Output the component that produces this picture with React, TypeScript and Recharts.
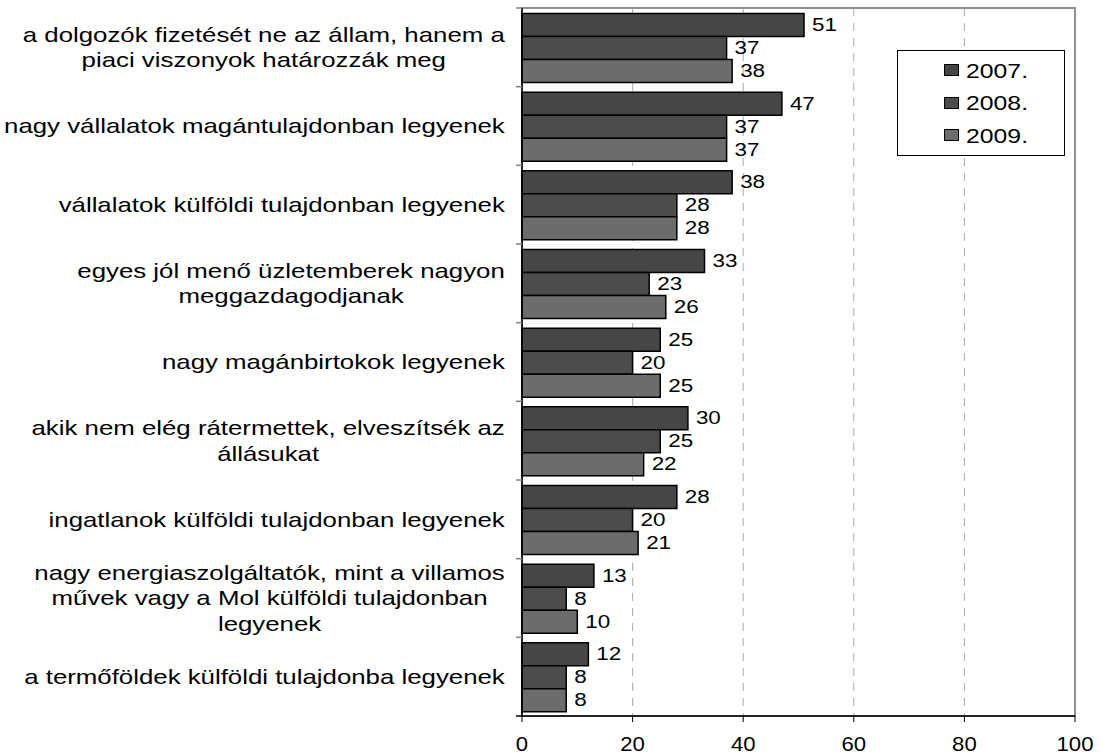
import React from 'react';
import { BarChart, Bar, XAxis, YAxis, CartesianGrid, Legend, LabelList, ReferenceArea } from 'recharts';

const categories = [
  'a dolgozók fizetését ne az állam, hanem a\npiaci viszonyok határozzák meg',
  'nagy vállalatok magántulajdonban legyenek',
  'vállalatok külföldi tulajdonban legyenek',
  'egyes jól menő üzletemberek nagyon\nmeggazdagodjanak',
  'nagy magánbirtokok legyenek',
  'akik nem elég rátermettek, elveszítsék az\nállásukat',
  'ingatlanok külföldi tulajdonban legyenek',
  'nagy energiaszolgáltatók, mint a villamos\nművek vagy a Mol külföldi tulajdonban\nlegyenek',
  'a termőföldek külföldi tulajdonba legyenek',
];
const values2007 = [51, 47, 38, 33, 25, 30, 28, 13, 12];
const values2008 = [37, 37, 28, 23, 20, 25, 20, 8, 8];
const values2009 = [38, 37, 28, 26, 25, 22, 21, 10, 8];
const seriesNames = ['2007.', '2008.', '2009.'];
const xTicks = [0, 20, 40, 60, 80, 100];

const data = categories.map((name, i) => ({
  name,
  y2007: values2007[i],
  y2008: values2008[i],
  y2009: values2009[i],
}));

const W = 1103;
const H = 756;
const X_HEIGHT = 30;
const MARGIN = { top: 8, right: 28, bottom: 40 - X_HEIGHT, left: 0 };
const Y_WIDTH = 522;
const PLOT_BOTTOM = H - 40;
const BAND = (H - 8 - 40) / categories.length;
const FONT = '"Liberation Sans", Arial, Helvetica, sans-serif';
const COLORS = ['#464646', '#4c4c4c', '#6c6c6c'];
const TICK_SIZE = 6;
const TICK_MARGIN = 11;

let ctx: CanvasRenderingContext2D | null = null;
function measure(text: string, fs: number): number {
  if (!ctx) {
    const c = document.createElement('canvas');
    ctx = c.getContext('2d');
  }
  if (!ctx) return text.length * fs * 0.5;
  ctx.font = `${fs}px "Liberation Sans", Arial, sans-serif`;
  return ctx.measureText(text).width;
}

const CategoryTick = (props: any) => {
  const { x, y, payload, index } = props;
  const lines = String(payload.value).split('\n');
  const fs = 21;
  const S = 1.23;
  const lh = 25.5;
  const w = Math.max(...lines.map((l) => measure(l, fs)));
  const cx = x - (w * S) / 2;
  const y0 = y - ((lines.length - 1) * lh) / 2;
  const axisX = x + TICK_SIZE + TICK_MARGIN;
  return (
    <g>
      <line x1={axisX - TICK_SIZE} x2={axisX} y1={y - BAND / 2} y2={y - BAND / 2} stroke="#808080" strokeWidth={1.5} />
      {index === categories.length - 1 && (
        <line x1={axisX - TICK_SIZE} x2={axisX} y1={y + BAND / 2} y2={y + BAND / 2} stroke="#000" strokeWidth={1.5} />
      )}
      <g transform={`translate(${cx},${y0}) scale(${S},1)`}>
        <text textAnchor="middle" fontSize={fs} fill="#000" fontFamily={FONT}>
          {lines.map((l, i) => (
            <tspan key={i} x={0} dy={i === 0 ? '0.35em' : lh}>
              {l}
            </tspan>
          ))}
        </text>
      </g>
    </g>
  );
};

const XTick = (props: any) => {
  const { x, payload } = props;
  const baseline = PLOT_BOTTOM + 35;
  return (
    <g transform={`translate(${x},${baseline}) scale(1.08,1)`}>
      <text textAnchor="middle" fontSize={20.5} fill="#000" fontFamily={FONT}>
        {payload.value}
      </text>
    </g>
  );
};

const ValueLabel = (props: any) => {
  const { x, y, width, height, value } = props;
  return (
    <g transform={`translate(${Number(x) + Number(width) + 8},${Number(y) + Number(height) / 2 - 1}) scale(1.18,1)`}>
      <text dy="0.36em" fontSize={19} fill="#000" fontFamily={FONT}>
        {value}
      </text>
    </g>
  );
};

const LegendContent = () => (
  <div
    style={{
      width: '100%',
      height: '100%',
      boxSizing: 'border-box',
      border: '1px solid #000',
      background: '#fff',
      paddingTop: 3,
      fontFamily: FONT,
    }}
  >
    {seriesNames.map((n, i) => (
      <div key={n} style={{ height: 32.5, display: 'flex', alignItems: 'center', paddingLeft: 46 }}>
        <span
          style={{
            display: 'inline-block',
            width: 13,
            height: 10,
            background: COLORS[i],
            border: '1px solid #000',
            marginRight: 7,
          }}
        />
        <span
          style={{
            display: 'inline-block',
            fontSize: 21,
            lineHeight: '21px',
            transform: 'scaleX(1.18)',
            transformOrigin: 'left center',
            color: '#000',
          }}
        >
          {n}
        </span>
      </div>
    ))}
  </div>
);

export default function App() {
  return (
    <div style={{ position: 'absolute', left: 0, top: 0, width: W, height: H, background: '#fff', overflow: 'hidden' }}>
      <BarChart
        width={W}
        height={H}
        data={data}
        layout="vertical"
        margin={MARGIN}
        barCategoryGap={5.5}
        barGap={0}
      >
        <ReferenceArea x1={0} x2={100} stroke="#909090" strokeWidth={2} fill="none" fillOpacity={0} ifOverflow="visible" />
        <CartesianGrid horizontal={false} stroke="#aaaaaa" strokeDasharray="8 7" verticalValues={[20, 40, 60, 80]} />
        <XAxis
          type="number"
          domain={[0, 100]}
          ticks={xTicks}
          interval={0}
          height={X_HEIGHT}
          axisLine={{ stroke: '#000', strokeWidth: 1.5 }}
          tickLine={{ stroke: '#000' }}
          tickSize={6}
          tick={<XTick />}
        />
        <YAxis
          type="category"
          dataKey="name"
          width={Y_WIDTH}
          interval={0}
          axisLine={{ stroke: '#000', strokeWidth: 1.5 }}
          tickLine={false}
          tickSize={TICK_SIZE}
          tickMargin={TICK_MARGIN}
          tick={<CategoryTick />}
        />
        <Legend
          layout="horizontal"
          verticalAlign="middle"
          align="center"
          content={<LegendContent />}
          wrapperStyle={{ position: 'absolute', left: 897, top: 50, width: 168, height: 106 }}
        />
        <Bar dataKey="y2007" name={seriesNames[0]} fill={COLORS[0]} stroke="#000" strokeWidth={1.5} isAnimationActive={false}>
          <LabelList dataKey="y2007" content={<ValueLabel />} />
        </Bar>
        <Bar dataKey="y2008" name={seriesNames[1]} fill={COLORS[1]} stroke="#000" strokeWidth={1.5} isAnimationActive={false}>
          <LabelList dataKey="y2008" content={<ValueLabel />} />
        </Bar>
        <Bar dataKey="y2009" name={seriesNames[2]} fill={COLORS[2]} stroke="#000" strokeWidth={1.5} isAnimationActive={false}>
          <LabelList dataKey="y2009" content={<ValueLabel />} />
        </Bar>
      </BarChart>
    </div>
  );
}
